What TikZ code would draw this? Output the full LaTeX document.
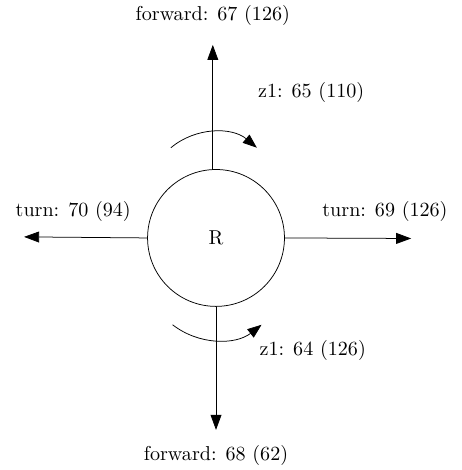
\documentclass[tikz,border=0pt]{standalone}
\usetikzlibrary{arrows.meta}

\begin{document}
\begin{tikzpicture}[
    move/.style={
        -{Triangle[length=8pt,width=5.8pt]},
        thin
    },
    twist/.style={
        -{Triangle[length=7.5pt,width=5.6pt]},
        thin
    },
    countlabel/.style={inner sep=1pt, font=\fontsize{10.7}{13}\selectfont}
]

% Frame
\useasboundingbox (-4.04,-4.34) rectangle (4.60,4.45);

% Robot
\node[draw, thin, circle, minimum size=2.56cm, inner sep=0pt,
      font=\fontsize{10.7}{13}\selectfont] (robot) at (0,0) {R};

% Free ends of the moves
\coordinate (fwdup) at (-0.06,3.61);
\coordinate (fwddown) at (0,-3.59);
\coordinate (turnleft) at (-3.59,0.02);
\coordinate (turnright) at (3.65,-0.01);

% Moves
\draw[move] (robot.north -| fwdup) -- (fwdup);
\draw[move] (robot.south) -- (fwddown);
\draw[move] (robot.west) -- (turnleft);
\draw[move] (robot.east) -- (turnright);

% Rotations
\draw[twist] (-0.04,0.73) ++(130:1.25) arc[start angle=130, end angle=50, radius=1.25];
\draw[twist] (0.02,-0.56) ++(232:1.35) arc[start angle=232, end angle=308, radius=1.35];

% Labels
\node[countlabel] (fwduplabel) at (-0.06,4.17) {forward: 67 (126)};
\node[countlabel] (fwddownlabel) at (0,-4.06) {forward: 68 (62)};
\node[countlabel] (turnleftlabel) at (-2.67,0.50) {turn: 70 (94)};
\node[countlabel] (turnrightlabel) at (3.16,0.50) {turn: 69 (126)};
\node[countlabel] (zuplabel) at (1.78,2.73) {z1: 65 (110)};
\node[countlabel] (zdownlabel) at (1.81,-2.11) {z1: 64 (126)};

\end{tikzpicture}
\end{document}
